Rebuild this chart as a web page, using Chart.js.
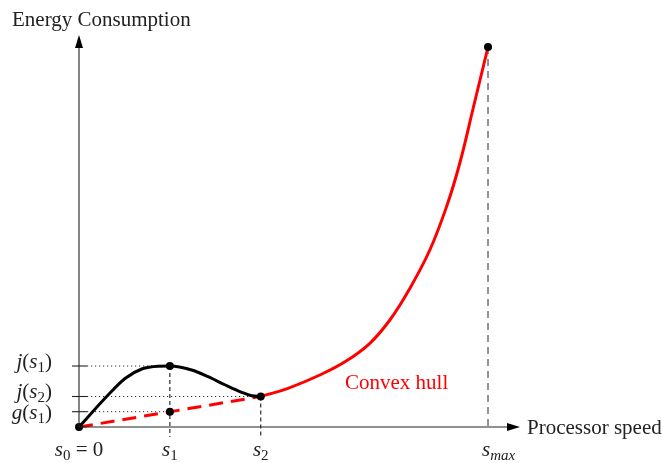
<!DOCTYPE html>
<html>
<head>
<meta charset="utf-8">
<script src="https://cdn.jsdelivr.net/npm/chart.js@4.4.1/dist/chart.umd.min.js"></script>
<style>
  body { margin: 0; background: #fff; }
</style>
</head>
<body>
<canvas id="chart" width="662" height="463"></canvas>
<script>
// Non-convex energy curve between s0 and s2
const curveX = [0, 0.32, 0.51, 0.69, 0.87, 1, 1.24, 1.42, 1.61, 1.79, 1.9, 2]
const curveY = [0, 3.2, 4.87, 5.8, 6.08, 6.1, 5.7, 5.03, 4.2, 3.47, 3.13, 3.05]

// Convex part from s2 up to s_max
const hullX = [2, 2.3, 2.65, 2.94, 3.2, 3.42, 3.63, 3.86, 4.05, 4.19, 4.34, 4.5]
const hullY = [3.05, 3.87, 5.2, 6.6, 8.37, 10.7, 13.7, 17.7, 22.2, 26.4, 32.0, 38]

// Chord s0 -> s2 (dashed part of the hull)
const chordX = [0, 2]
const chordY = [0, 3.05]

// Marked points
const markX = [0, 1, 1, 2, 4.5]
const markY = [0, 6.1, 1.53, 3.05, 38]

// Tick labels
const xTickVals = [0, 1, 2, 4.5]
const xTickLabels = [
  [['s', 'i'], ['0', 'sub'], [' = 0', 'r']],
  [['s', 'i'], ['1', 'sub']],
  [['s', 'i'], ['2', 'sub']],
  [['s', 'i'], ['max', 'subi']]
]
const xTickAlign = ['center', 'center', 'center', 'left']

const yTickVals = [6.1, 3.05, 1.53]
const yTickX = [1, 2, 1]  // where each dotted guide ends
const yTickLabels = [
  [['j', 'i'], ['(', 'r'], ['s', 'i'], ['1', 'sub'], [')', 'r']],
  [['j', 'i'], ['(', 'r'], ['s', 'i'], ['2', 'sub'], [')', 'r']],
  [['g', 'i'], ['(', 'r'], ['s', 'i'], ['1', 'sub'], [')', 'r']]
]
const yLabelShift = [1.5, 1, 7]

const FONT = '"Liberation Serif", "Times New Roman", serif'
const SIZE = 21
const SUB = 15

const pts = (xs, ys) => xs.map((x, i) => ({ x, y: ys[i] }))

function partFont(style) {
  if (style === 'i') return `italic ${SIZE}px ${FONT}`
  if (style === 'sub') return `${SUB}px ${FONT}`
  if (style === 'subi') return `italic ${SUB}px ${FONT}`
  return `${SIZE}px ${FONT}`
}

function drawMath(ctx, parts, x, y, align) {
  let total = 0
  parts.forEach(([t, s]) => { ctx.font = partFont(s); total += ctx.measureText(t).width })
  let cx = align === 'center' ? x - total / 2 : align === 'right' ? x - total : x
  ctx.textAlign = 'left'
  ctx.textBaseline = 'alphabetic'
  parts.forEach(([t, s]) => {
    ctx.font = partFont(s)
    const dy = (s === 'sub' || s === 'subi') ? 4 : 0
    ctx.fillText(t, cx, y + dy)
    cx += ctx.measureText(t).width
  })
}

const axesPlugin = {
  id: 'axes',
  afterDraw(chart) {
    const { ctx, chartArea: a, scales: { x, y } } = chart
    ctx.save()
    ctx.strokeStyle = '#222'
    ctx.fillStyle = '#000'
    ctx.lineWidth = 1.1

    // x axis with arrow
    ctx.beginPath()
    ctx.moveTo(a.left, a.bottom)
    ctx.lineTo(a.right - 8, a.bottom)
    ctx.stroke()
    ctx.beginPath()
    ctx.moveTo(a.right, a.bottom)
    ctx.lineTo(a.right - 13, a.bottom - 4)
    ctx.lineTo(a.right - 13, a.bottom + 4)
    ctx.closePath()
    ctx.fill()

    // y axis with arrow
    ctx.beginPath()
    ctx.moveTo(a.left, a.bottom)
    ctx.lineTo(a.left, a.top + 8)
    ctx.stroke()
    ctx.beginPath()
    ctx.moveTo(a.left, a.top)
    ctx.lineTo(a.left - 4, a.top + 13)
    ctx.lineTo(a.left + 4, a.top + 13)
    ctx.closePath()
    ctx.fill()

    // y tick marks and labels
    yTickVals.forEach((v, i) => {
      const py = y.getPixelForValue(v)
      ctx.beginPath()
      ctx.moveTo(a.left - 7, py)
      ctx.lineTo(a.left + 8, py)
      ctx.stroke()
      ctx.fillStyle = '#222'
      drawMath(ctx, yTickLabels[i], 52, py + yLabelShift[i], 'right')
    })

    // x tick labels
    xTickVals.forEach((v, i) => {
      const px = x.getPixelForValue(v)
      ctx.fillStyle = '#222'
      drawMath(ctx, xTickLabels[i], xTickAlign[i] === 'left' ? px - 6 : px, 456, xTickAlign[i])
    })

    // axis titles and annotation
    ctx.font = `${SIZE}px ${FONT}`
    ctx.textAlign = 'left'
    ctx.textBaseline = 'alphabetic'
    ctx.fillStyle = '#222'
    ctx.fillText('Energy Consumption', 12, 26)
    ctx.fillText('Processor speed', 527, 434)
    ctx.fillStyle = '#ff0000'
    ctx.fillText('Convex hull', 345, 389)
    ctx.restore()
  }
}

const guide = (data, dash, color, width) => ({
  data, borderColor: color, borderWidth: width, borderDash: dash,
  pointRadius: 0, fill: false, clip: false, tension: 0
})

const datasets = [
  {
    data: pts(markX, markY), showLine: false, pointRadius: 4,
    pointBackgroundColor: '#000', pointBorderColor: '#000', pointBorderWidth: 0, clip: false
  },
  {
    data: pts(curveX, curveY), borderColor: '#000', borderWidth: 3,
    pointRadius: 0, cubicInterpolationMode: 'monotone', fill: false
  },
  {
    data: pts(hullX, hullY), borderColor: '#ff0000', borderWidth: 3,
    pointRadius: 0, tension: 0.4, fill: false, clip: false
  },
  {
    data: pts(chordX, chordY), borderColor: '#ff0000', borderWidth: 3,
    borderDash: [14, 8], pointRadius: 0, fill: false, clip: false
  },
  // vertical guides
  guide([{ x: 1, y: 6.1 }, { x: 1, y: -1 }], [4, 3], '#000', 1),
  guide([{ x: 2, y: 3.05 }, { x: 2, y: -1 }], [4, 3], '#000', 1),
  guide([{ x: 4.5, y: 38 }, { x: 4.5, y: 0 }], [7, 5], '#666', 1.4),
  // horizontal dotted guides
  ...yTickVals.map((v, i) => guide([{ x: 0.09, y: v }, { x: yTickX[i], y: v }], [1, 3], '#000', 1))
]

new Chart(document.getElementById('chart'), {
  type: 'line',
  data: { datasets },
  options: {
    responsive: false,
    animation: false,
    events: [],
    layout: { padding: { left: 79, top: 35, right: 142, bottom: 36 } },
    scales: {
      x: { type: 'linear', min: 0, max: 4.852, display: false },
      y: { type: 'linear', min: 0, max: 39.2, display: false }
    },
    plugins: { legend: { display: false }, tooltip: { enabled: false } }
  },
  plugins: [axesPlugin]
})
</script>
</body>
</html>
